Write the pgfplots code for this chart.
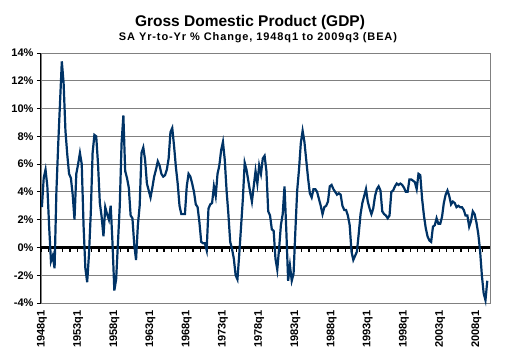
\documentclass[border=0pt]{standalone}
\usepackage{pgfplots}
\pgfplotsset{compat=1.18}
\usepackage{pgfplotstable}
\usepackage{fontspec}
\setmainfont{Liberation Sans}
\newfontfamily\subfont[LetterSpace=8]{Liberation Sans}
\definecolor{gdpblue}{RGB}{0,51,102}
\definecolor{gridgray}{RGB}{128,128,128}
\pgfplotstableread[row sep=\\]{
v\\
2.9\\ 5.0\\ 5.6\\ 4.4\\
1.5\\ -1.0\\ -0.6\\ -1.5\\
4.0\\ 7.4\\ 10.4\\ 13.4\\
11.8\\ 8.4\\ 6.7\\ 5.3\\
5.0\\ 3.8\\ 2.0\\ 5.3\\
6.0\\ 6.8\\ 6.0\\ 1.6\\
-1.5\\ -2.5\\ -0.5\\ 2.5\\
6.8\\ 8.1\\ 8.0\\ 6.0\\
3.2\\ 2.2\\ 0.8\\ 2.9\\
2.4\\ 2.0\\ 3.0\\ 0.3\\
-3.1\\ -2.3\\ 0.3\\ 3.0\\
7.5\\ 9.5\\ 5.5\\ 5.0\\
4.3\\ 2.3\\ 2.1\\ 0.2\\
-0.9\\ 1.6\\ 3.0\\ 6.8\\
7.2\\ 6.3\\ 4.6\\ 4.1\\
3.6\\ 4.3\\ 5.1\\ 5.6\\
6.2\\ 5.9\\ 5.3\\ 5.1\\
5.2\\ 5.6\\ 6.4\\ 8.3\\
8.6\\ 7.3\\ 5.8\\ 4.6\\
3.0\\ 2.4\\ 2.4\\ 2.4\\
4.4\\ 5.3\\ 5.1\\ 4.6\\
4.0\\ 3.1\\ 2.9\\ 1.8\\
0.4\\ 0.3\\ 0.3\\ -0.2\\
2.8\\ 3.1\\ 3.2\\ 4.4\\
3.7\\ 5.3\\ 5.9\\ 7.0\\
7.6\\ 6.3\\ 4.1\\ 2.4\\
0.4\\ -0.1\\ -0.8\\ -2.0\\
-2.3\\ -0.5\\ 1.5\\ 3.5\\
6.1\\ 5.6\\ 4.8\\ 4.0\\
3.3\\ 4.4\\ 5.5\\ 4.6\\
5.9\\ 5.3\\ 6.4\\ 6.6\\
5.5\\ 2.6\\ 2.3\\ 1.3\\
1.2\\ -0.8\\ -1.6\\ -0.1\\
1.6\\ 2.4\\ 4.4\\ 1.2\\
-2.4\\ -1.3\\ -2.4\\ -1.9\\
1.2\\ 4.1\\ 5.6\\ 7.5\\
8.4\\ 7.6\\ 6.3\\ 5.0\\
3.9\\ 3.6\\ 4.2\\ 4.2\\
4.0\\ 3.5\\ 3.0\\ 2.4\\
2.9\\ 3.0\\ 3.3\\ 4.4\\
4.5\\ 4.2\\ 4.0\\ 3.8\\
3.9\\ 3.8\\ 3.0\\ 2.7\\
2.7\\ 2.3\\ 1.6\\ -0.3\\
-0.9\\ -0.6\\ -0.3\\ 1.0\\
2.4\\ 3.2\\ 3.7\\ 4.2\\
3.3\\ 2.8\\ 2.4\\ 2.8\\
3.7\\ 4.2\\ 4.4\\ 4.1\\
2.6\\ 2.4\\ 2.3\\ 2.1\\
2.3\\ 4.0\\ 4.1\\ 4.4\\
4.6\\ 4.5\\ 4.6\\ 4.5\\
4.3\\ 4.0\\ 4.0\\ 4.9\\
4.9\\ 4.8\\ 4.7\\ 4.2\\
5.3\\ 5.2\\ 3.5\\ 2.3\\
1.4\\ 0.8\\ 0.5\\ 0.4\\
1.5\\ 1.6\\ 2.1\\ 1.7\\
1.7\\ 2.2\\ 3.2\\ 3.8\\
4.1\\ 3.7\\ 3.1\\ 3.3\\
3.2\\ 2.9\\ 3.0\\ 2.9\\
2.9\\ 2.7\\ 2.3\\ 2.3\\
1.5\\ 1.9\\ 2.6\\ 2.4\\
1.8\\ 1.0\\ -0.2\\ -2.0\\
-3.3\\ -3.8\\ -2.4\\
}\gdp
\begin{document}
\begin{tikzpicture}[x=1pt,y=1pt]
\useasboundingbox (0,0) rectangle (507,358);
\node[anchor=base, font=\fontsize{15.5}{17}\selectfont\bfseries] at (250,331) {Gross Domestic Product (GDP)};
\node[anchor=base, font=\subfont\fontsize{11}{13}\selectfont\bfseries] at (258,317.5) {SA Yr-to-Yr \% Change, 1948q1 to 2009q3 (BEA)};
\begin{axis}[at={(41pt,55pt)}, anchor=south west, scale only axis,
  width=449pt, height=250pt,
  xmin=-0.5, xmax=247.5, ymin=-4, ymax=14,
  ytick={-4,-2,...,14},
  yticklabel={\pgfmathprintnumber{\tick}\%},
  /pgf/number format/assume math mode=true,
  xtick={0,20,...,240},
  xticklabels={1948q1,1953q1,1958q1,1963q1,1968q1,1973q1,1978q1,1983q1,1988q1,1993q1,1998q1,2003q1,2008q1},
  x tick label style={rotate=90, anchor=east},
  tick label style={font=\fontsize{11}{12}\selectfont\bfseries},
  ymajorgrids, grid style={gridgray, line width=0.8pt},
  axis line style={gridgray, line width=0.8pt},
  xtick style={draw=none},
  ytick style={black, line width=0.8pt},
  tick pos=left, tick align=outside, major tick length=4pt,
  clip=false,
]
\draw[black, line width=1pt] (axis cs:-0.5,-4) -- (axis cs:-0.5,14);
\draw[black, line width=2.5pt] (axis cs:-0.5,0) -- (axis cs:247.5,0);
\pgfplotsinvokeforeach{-0.5,3.5,...,243.5}{\draw[black, line width=1.3pt] (axis cs:#1,0) -- ++(0pt,-5pt);}
\addplot[gdpblue, line width=2.2pt, mark=none] table[x expr=\coordindex, y=v] {\gdp};
\end{axis}
\end{tikzpicture}
\end{document}
